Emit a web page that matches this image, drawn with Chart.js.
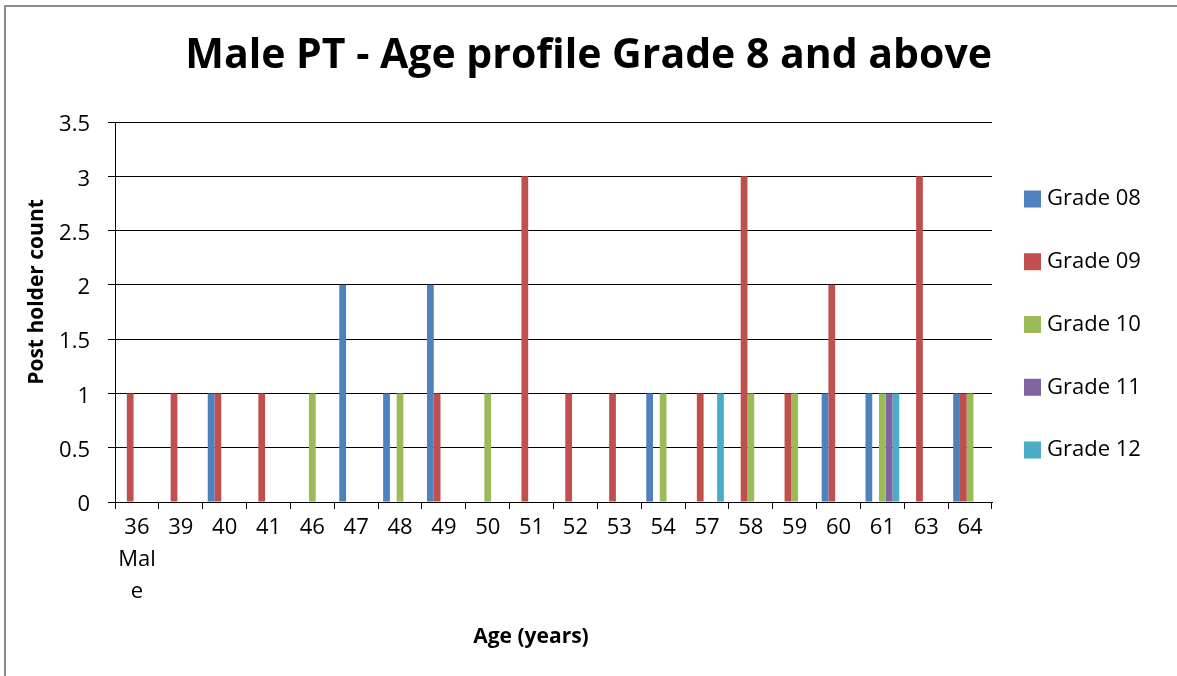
<!DOCTYPE html>
<html><head><meta charset="utf-8">
<script src="https://cdn.jsdelivr.net/npm/chart.js@4"></script>
<style>
html,body{margin:0;padding:0;background:#fff;}
#wrap{position:relative;width:1177px;height:676px;overflow:hidden;background:#fff;}
#frame{position:absolute;left:4px;top:5px;width:2000px;height:2000px;border-left:2px solid #8c8c8c;border-top:2px solid #8c8c8c;pointer-events:none;}
canvas{position:absolute;left:0;top:0;}
</style></head><body>
<div id="wrap"><canvas id="c" width="1177" height="676"></canvas><div id="frame"></div></div>
<script>
const chartTitle = 'Male PT - Age profile Grade 8 and above';
const xTitle = 'Age (years)';
const yTitle = 'Post holder count';
const ages = [['36','Mal','e'],'39','40','41','46','47','48','49','50','51','52','53','54','57','58','59','60','61','63','64'];
const seriesNames = ['Grade 08','Grade 09','Grade 10','Grade 11','Grade 12'];
const grade08 = [0,0,1,0,0,2,1,2,0,0,0,0,1,0,0,0,1,1,0,1];
const grade09 = [1,1,1,1,0,0,0,1,0,3,1,1,0,1,3,1,2,0,3,1];
const grade10 = [0,0,0,0,1,0,1,0,1,0,0,0,1,0,1,1,0,1,0,1];
const grade11 = [0,0,0,0,0,0,0,0,0,0,0,0,0,0,0,0,0,1,0,0];
const grade12 = [0,0,0,0,0,0,0,0,0,0,0,0,0,1,0,0,0,1,0,0];
const yMin = 0, yMax = 3.5, yStep = 0.5;
const colors = ['#4F81BD','#C0504D','#9BBB59','#8064A2','#4BACC6'];

const FONT = '"Open Sans", "Liberation Sans", sans-serif';
const allSeries = [grade08, grade09, grade10, grade11, grade12];

const overlay = {
  id: 'overlay',
  afterDraw(chart) {
    const ctx = chart.ctx;
    // y-axis title
    ctx.save();
    ctx.font = 'bold 21px ' + FONT;
    ctx.fillStyle = '#000';
    ctx.textAlign = 'center';
    ctx.textBaseline = 'middle';
    ctx.translate(37, 292);
    ctx.rotate(-Math.PI / 2);
    ctx.fillText(yTitle, 0, 0);
    ctx.restore();
    // x-axis title
    ctx.save();
    ctx.font = 'bold 21px ' + FONT;
    ctx.fillStyle = '#000';
    ctx.textAlign = 'center';
    ctx.textBaseline = 'middle';
    ctx.fillText(xTitle, 531, 637);
    ctx.restore();
    // legend
    ctx.save();
    ctx.font = '22px ' + FONT;
    ctx.textAlign = 'left';
    ctx.textBaseline = 'middle';
    chart.data.datasets.forEach((ds, i) => {
      const cy = 199 + i * 62.75;
      ctx.fillStyle = ds.backgroundColor;
      ctx.fillRect(1024, cy - 8.5, 17, 17);
      ctx.fillStyle = '#000';
      ctx.fillText(ds.label, 1047, cy);
    });
    ctx.restore();
  }
};

new Chart(document.getElementById('c'), {
  type: 'bar',
  data: {
    labels: ages,
    datasets: seriesNames.map((n, i) => ({
      label: n,
      data: allSeries[i],
      backgroundColor: colors[i],
      borderWidth: 0,
      categoryPercentage: 0.77,
      barPercentage: 1.0
    }))
  },
  options: {
    responsive: false,
    animation: false,
    devicePixelRatio: 1,
    layout: { padding: { left: 0, right: 185, top: 0, bottom: 0 } },
    plugins: {
      legend: { display: false },
      tooltip: { enabled: false },
      title: {
        display: true,
        text: chartTitle,
        align: 'end',
        color: '#000',
        font: { family: FONT, size: 41, weight: 'bold', lineHeight: 1.2 },
        padding: { top: 31.4, bottom: 41.4 }
      }
    },
    scales: {
      x: {
        afterFit(scale) { scale.height = 174; },
        grid: { display: true, drawOnChartArea: false, drawTicks: true, tickLength: 7, color: '#000', lineWidth: 1, offset: true },
        border: { display: true, color: '#000', width: 1 },
        ticks: { color: '#000', font: { family: FONT, size: 22, lineHeight: 1.45 }, padding: 3, maxRotation: 0, autoSkip: false }
      },
      y: {
        min: yMin, max: yMax,
        afterFit(scale) { scale.width = 115; },
        grid: { display: true, drawOnChartArea: true, drawTicks: true, tickLength: 7, color: '#000', lineWidth: 1 },
        border: { display: true, color: '#000', width: 1 },
        ticks: { stepSize: yStep, color: '#000', font: { family: FONT, size: 22 }, padding: 18, labelOffset: 3,
                 callback: (v) => String(v) }
      }
    }
  },
  plugins: [overlay]
});
</script>
</body></html>
